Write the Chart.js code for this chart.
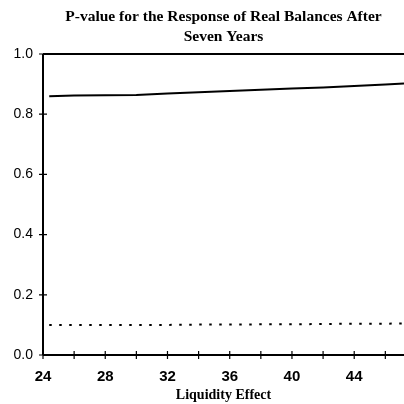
<!DOCTYPE html>
<html>
<head>
<meta charset="utf-8">
<script src="https://cdn.jsdelivr.net/npm/chart.js@4"></script>
<style>
  html, body { margin: 0; padding: 0; background: #fff; }
  #wrap { width: 404px; height: 404px; }
</style>
</head>
<body>
<div id="wrap"><canvas id="myChart" width="404" height="404"></canvas></div>
<script>
const ctx = document.getElementById('myChart').getContext('2d');

// values
const liquidity = [24.4, 26, 28, 30, 32, 34, 36, 38, 40, 42, 44, 46, 47.2];
const pValue = [0.860, 0.862, 0.863, 0.864, 0.869, 0.873, 0.877, 0.881, 0.885, 0.889, 0.894, 0.899, 0.902];
const cutoff = [0.100, 0.100, 0.100, 0.100, 0.100, 0.101, 0.101, 0.102, 0.102, 0.103, 0.104, 0.104, 0.105];

const xLabels = [24, 28, 32, 36, 40, 44];
const yTicks = [0, 0.2, 0.4, 0.6, 0.8, 1.0];

const toPoints = (ys) => liquidity.map((x, i) => ({ x: x, y: ys[i] }));

// axis lines and tick marks crossing the axes, like the printed figure
const axesPlugin = {
  id: 'axesPlugin',
  afterDatasetsDraw(chart) {
    const { ctx, scales: { x, y } } = chart;
    const x0 = x.getPixelForValue(24);
    const y0 = y.getPixelForValue(0);
    const y1 = y.getPixelForValue(1);
    const right = chart.chartArea.right;
    ctx.save();
    ctx.strokeStyle = '#000';
    ctx.lineWidth = 2;
    ctx.beginPath();
    ctx.moveTo(x0, y1);
    ctx.lineTo(x0, y0);
    ctx.moveTo(x0, y0);
    ctx.lineTo(right, y0);
    ctx.moveTo(x0, y1);
    ctx.lineTo(right, y1);
    ctx.stroke();
    ctx.lineWidth = 1.2;
    ctx.beginPath();
    for (let v = 24; v <= 47; v += 2) {
      const px = x.getPixelForValue(v);
      ctx.moveTo(px, y0 - 4);
      ctx.lineTo(px, y0 + 4);
    }
    yTicks.forEach((v) => {
      const py = y.getPixelForValue(v);
      ctx.moveTo(x0 - 4, py);
      ctx.lineTo(x0 + 4, py);
    });
    ctx.stroke();
    ctx.restore();
  },
};

const data = {
  datasets: [
    {
      data: toPoints(pValue),
      borderColor: '#000',
      borderWidth: 2,
      pointRadius: 0,
      tension: 0,
    },
    {
      data: toPoints(cutoff),
      borderColor: '#000',
      borderWidth: 2,
      borderDash: [2.5, 7.5],
      pointRadius: 0,
      tension: 0,
    },
  ],
};

const config = {
  type: 'line',
  data: data,
  plugins: [axesPlugin],
  options: {
    responsive: false,
    animation: false,
    layout: { padding: 0 },
    plugins: {
      legend: { display: false },
      tooltip: { enabled: false },
      title: {
        display: true,
        fullSize: false,
        text: ['P-value for the Response of Real Balances After', 'Seven Years'],
        color: '#000',
        font: { family: '"Liberation Serif", "Times New Roman", serif', size: 15.5, weight: 'bold', lineHeight: 1.29 },
        padding: { top: 7, bottom: 7 },
      },
    },
    scales: {
      x: {
        type: 'linear',
        min: 24,
        max: 47.2,
        grid: { display: false, drawTicks: false },
        border: { display: false },
        afterBuildTicks: (scale) => {
          scale.ticks = xLabels.map((v) => ({ value: v }));
        },
        afterFit: (scale) => {
          scale.height = 49;
        },
        ticks: {
          color: '#000',
          padding: 13,
          maxRotation: 0,
          autoSkip: false,
          font: { family: '"Liberation Sans", Arial, sans-serif', size: 15, weight: 'bold' },
        },
        title: {
          display: true,
          text: 'Liquidity Effect',
          color: '#000',
          font: { family: '"Liberation Serif", "Times New Roman", serif', size: 14, weight: 'bold' },
          padding: { top: 2, bottom: 0 },
        },
      },
      y: {
        min: 0,
        max: 1,
        grid: { display: false, drawTicks: false },
        border: { display: false },
        afterBuildTicks: (scale) => {
          scale.ticks = yTicks.map((v) => ({ value: v }));
        },
        afterFit: (scale) => {
          scale.width = 43;
        },
        ticks: {
          color: '#000',
          padding: 10,
          font: { family: '"Liberation Sans", Arial, sans-serif', size: 14 },
          callback: (value) => value.toFixed(1),
        },
      },
    },
  },
};

const myChart = new Chart(ctx, config);
</script>
</body>
</html>
